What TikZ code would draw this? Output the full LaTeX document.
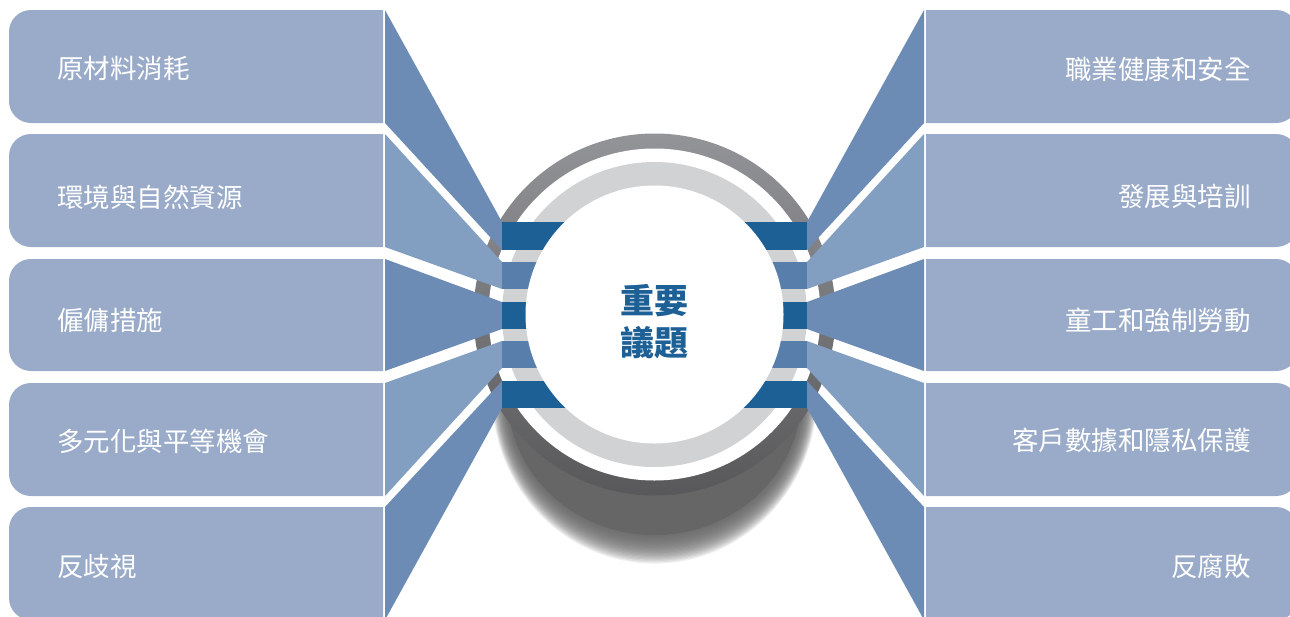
\documentclass[tikz,border=0pt]{standalone}
\usepackage{fontspec}
\newfontfamily\cjk{Noto Sans CJK TC}
\definecolor{cBox}{HTML}{99ABC9}
\definecolor{cFanA}{HTML}{6C8CB5}
\definecolor{cFanB}{HTML}{829EC1}
\definecolor{cBarA}{HTML}{1D6096}
\definecolor{cBarB}{HTML}{587EAC}
\definecolor{cRingTop}{HTML}{939498}
\definecolor{cRingBot}{HTML}{58585A}
\definecolor{cRingL}{HTML}{D1D2D4}
\definecolor{cShadow}{HTML}{666666}
\definecolor{cTitle}{HTML}{1D6096}
\begin{document}
\begin{tikzpicture}[x=1pt,y=-1pt,
  itemtext/.style={text=white, inner sep=0pt, font=\cjk\fontsize{26.5}{30}\selectfont},
  titletext/.style={text=cTitle, inner sep=0pt, align=center, font=\cjk\bfseries\fontsize{34}{41.5}\selectfont},
  coredisk/.style={circle, fill=white, inner sep=0pt, minimum size=258pt}]
\clip (0,0) rectangle (1290,616);
\fill[white] (0,0) rectangle (1290,616);
% boxes
\foreach \t/\b in {10/123, 134/247, 259/371, 383/496, 507/620} {
  \fill[cBox, rounded corners=22pt] (383,\t) -- (9,\t) -- (9,\b) -- (383,\b);
  \fill[cBox, rounded corners=22pt] (926,\t) -- (1298,\t) -- (1298,\b) -- (926,\b);
}
% shadow
\fill[cShadow] (654.5,395) ellipse [x radius=147, y radius=140];
\foreach \k in {1,2,...,22}
  \fill[cShadow, opacity=0.1] (654.5,395) ellipse [x radius={147+0.7*\k}, y radius={140+1.3*\k}];
% rings
\shade[top color=cRingTop, bottom color=cRingBot] (654.5,314.5) circle (181);
\fill[white] (654.5,314.5) circle (166);
\fill[cRingL] (654.5,314.5) circle (152.5);
% fans
\foreach \t/\b/\bt/\bb/\c in {10/123/222/250/cFanA, 134/247/262/289/cFanB, 259/371/302/329/cFanA, 383/496/341/368/cFanB, 507/620/381/408/cFanA} {
  \fill[\c] (385,\t) -- (502,\bt) -- (502,\bb) -- (385,\b) -- cycle;
  \fill[\c] (924,\t) -- (807,\bt) -- (807,\bb) -- (924,\b) -- cycle;
}
% bars
\foreach \t/\b/\c in {222/250/cBarA, 262/289/cBarB, 302/329/cBarA, 341/368/cBarB, 381/408/cBarA}
  \fill[\c] (502,\t) rectangle (807,\b);
% centre
\node[coredisk] (core) at (654.5,314.5) {};
\node[titletext] (title) at (654.5,321.5) {重要\\議題};
% left texts
\node[itemtext, anchor=west] (l1) at (57,68.5) {原材料消耗};
\node[itemtext, anchor=west] (l2) at (57,197) {環境與自然資源};
\node[itemtext, anchor=west] (l3) at (57,320) {僱傭措施};
\node[itemtext, anchor=west] (l4) at (57,441) {多元化與平等機會};
\node[itemtext, anchor=west] (l5) at (57,566) {反歧視};
% right texts
\node[itemtext, anchor=east] (r1) at (1251,69) {職業健康和安全};
\node[itemtext, anchor=east] (r2) at (1251,196.5) {發展與培訓};
\node[itemtext, anchor=east] (r3) at (1251,320) {童工和強制勞動};
\node[itemtext, anchor=east] (r4) at (1251,440) {客戶數據和隱私保護};
\node[itemtext, anchor=east] (r5) at (1251,566) {反腐敗};
\end{tikzpicture}
\end{document}
